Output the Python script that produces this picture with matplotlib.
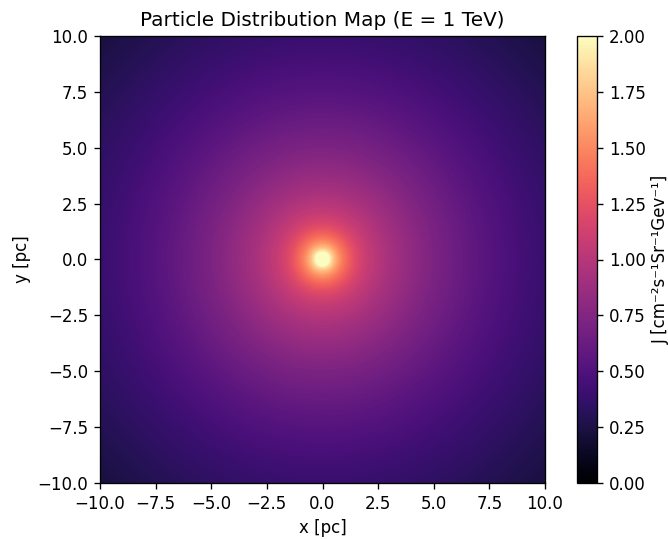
import numpy as np
import matplotlib
matplotlib.use("Agg")
import matplotlib.pyplot as plt

# Radial profile (r in pc, J in cm^-2 s^-1 sr^-1 GeV^-1)
radius_pc = [0.0, 0.3, 0.5, 0.8, 1.0, 1.5, 2.0, 2.5, 3.0, 4.0, 5.0, 6.0, 7.0, 8.0, 9.0, 10.0, 12.0, 14.2]
flux_J    = [3.0, 2.0, 1.75, 1.5, 1.4, 1.2, 1.08, 1.0, 0.93, 0.82, 0.72, 0.64, 0.56, 0.5, 0.44, 0.39, 0.31, 0.23]

n_cells = 100
x_edges = np.linspace(-10, 10, n_cells + 1)
y_edges = np.linspace(-10, 10, n_cells + 1)
xc = 0.5 * (x_edges[:-1] + x_edges[1:])
yc = 0.5 * (y_edges[:-1] + y_edges[1:])
X, Y = np.meshgrid(xc, yc)
R = np.hypot(X, Y)
J = np.interp(R, radius_pc, flux_J)

W, H, DPI = 668, 539, 120
fig = plt.figure(figsize=(W / DPI, H / DPI), dpi=DPI)
ax = fig.add_axes([100 / W, (H - 483) / H, 445 / W, 447 / H])
cax = fig.add_axes([577 / W, (H - 483) / H, 20 / W, 447 / H])
im = ax.imshow(J, origin="lower", extent=[-10, 10, -10, 10], cmap="magma",
               vmin=0, vmax=2, interpolation="bilinear", aspect="auto")
ax.set_title("Particle Distribution Map (E = 1 TeV)")
ax.set_xlabel("x [pc]")
ax.set_ylabel("y [pc]")
cb = fig.colorbar(im, cax=cax)
cb.set_label("J [cm⁻²s⁻¹Sr⁻¹Gev⁻¹]")
fig.savefig("out.png", dpi=DPI)
